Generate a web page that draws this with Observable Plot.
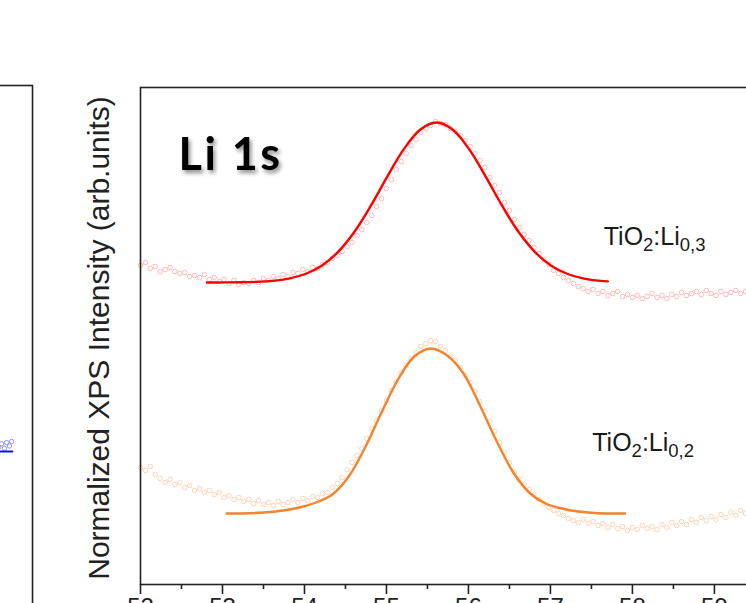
<!DOCTYPE html>
<html><head><meta charset="utf-8">
<script src="https://cdn.jsdelivr.net/npm/d3@7"></script>
<script src="https://cdn.jsdelivr.net/npm/@observablehq/plot@0.6"></script>
<style>
html,body{margin:0;padding:0;width:746px;height:603px;overflow:hidden;background:#fff;}
#wrap{position:relative;width:746px;height:603px;overflow:hidden;background:#fff;}
</style></head><body><div id="wrap"></div>
<script>
// ---- tick labels (binding energy, eV) ----
const majorTicks = [52, 53, 54, 55, 56, 57, 58, 59, 60];
const minorTicks = [52.5, 53.5, 54.5, 55.5, 56.5, 57.5, 58.5, 59.5];

// ---- measured data: energy grid (eV) ----
const energy = [52.00,52.06,52.12,52.18,52.24,52.30,52.36,52.42,52.48,52.54,
52.60,52.66,52.72,52.78,52.84,52.90,52.96,53.02,53.08,53.14,
53.20,53.26,53.32,53.38,53.44,53.50,53.56,53.62,53.68,53.74,
53.80,53.86,53.92,53.98,54.04,54.10,54.16,54.22,54.28,54.34,
54.40,54.46,54.52,54.58,54.64,54.70,54.76,54.82,54.88,54.94,
55.00,55.06,55.12,55.18,55.24,55.30,55.36,55.42,55.48,55.54,
55.60,55.66,55.72,55.78,55.84,55.90,55.96,56.02,56.08,56.14,
56.20,56.26,56.32,56.38,56.44,56.50,56.56,56.62,56.68,56.74,
56.80,56.86,56.92,56.98,57.04,57.10,57.16,57.22,57.28,57.34,
57.40,57.46,57.52,57.58,57.64,57.70,57.76,57.82,57.88,57.94,
58.00,58.06,58.12,58.18,58.24,58.30,58.36,58.42,58.48,58.54,
58.60,58.66,58.72,58.78,58.84,58.90,58.96,59.02,59.08,59.14,
59.20,59.26,59.32,59.38];

// TiO2:Li0,3 measured intensity (arb. units, offset)
const li03Data = [319,322,316,318,313,315,317,313,311,312,
308,309,307,310,305,307,303,305,301,304,
300,302,301,304,302,306,304,308,306,310,
308,312,311,315,313,317,316,320,322,326,
329,333,338,342,349,355,362,369,378,386,
396,405,415,423,431,439,445,452,456,459,
463,461,460,456,453,449,444,438,431,424,
417,407,399,392,382,374,365,357,350,344,
337,331,325,320,314,311,307,304,301,298,
296,293,295,291,293,289,291,293,288,290,
287,289,286,288,291,287,289,286,290,288,
292,289,291,293,290,294,291,289,293,290,
292,294,291,293];

// TiO2:Li0,2 measured intensity
const li02Data = [117,114,118,110,106,102,105,100,102,97,
99,94,96,92,94,90,92,87,89,85,
87,83,85,81,84,80,82,79,83,80,
82,85,82,86,84,88,87,91,92,97,
101,107,115,122,129,136,146,156,164,174,
184,194,203,212,219,226,232,238,241,244,
243,238,234,228,224,217,209,202,193,183,
173,163,153,142,132,122,112,105,100,95,
90,85,81,77,74,71,69,66,64,62,
65,61,63,59,61,57,60,56,58,54,
57,55,59,56,58,55,60,57,62,59,
63,60,65,62,67,64,68,65,70,67,
72,69,74,71];

// fitted curves
const li03FitE = [52.81,53.01,53.21,53.41,53.61,53.81,54.01,54.21,54.41,54.61,54.81,55.01,55.21,55.41,55.61,55.81,56.01,56.21,56.41,56.61,56.81,57.01,57.21,57.41,57.61,57.70];
const li03FitI = [302.0,302.1,302.2,302.6,303.6,305.9,310.5,318.8,332.6,352.7,378.8,407.9,435.1,454.8,462.0,454.8,435.1,407.9,378.8,352.7,332.6,318.8,310.5,305.9,303.6,303.1];
const li02FitE = [53.05,53.34,53.54,53.74,53.94,54.14,54.34,54.54,54.74,54.94,55.14,55.34,55.54,55.74,55.94,56.14,56.34,56.54,56.74,56.94,57.14,57.34,57.54,57.74,57.91];
const li02FitI = [71.0,71.3,72.2,74.0,77.0,82.0,90.0,108.0,137.0,172.0,205.0,228.0,236.0,229.0,211.0,179.0,144.0,113.0,92.0,81.0,76.0,73.0,71.5,71.0,71.0];

// series labels
const labelText = ["TiO2:Li0,3", "TiO2:Li0,2"];
const labelE = [57.65, 57.51];
const labelI = [340, 134];
const labelParts = {
  "TiO2:Li0,3": [["TiO",0],["2",1],[":Li",0],["0,3",1]],
  "TiO2:Li0,2": [["TiO",0],["2",1],[":Li",0],["0,2",1]]
};
const titleText = "Li 1s";
const yLabel = "Normalized XPS Intensity (arb.units)";

// left (neighbouring) panel fragment
const leftLineX = [0.50, 0.72];
const leftLineY = [0.352, 0.352];
const leftPtsX = [0.53, 0.57, 0.61, 0.64, 0.68, 0.71];
const leftPtsY = [0.360, 0.366, 0.358, 0.368, 0.362, 0.370];

const zip = (a, b) => a.map((x, i) => ({x, y: b[i]}));
const font = "'Liberation Sans', Arial, sans-serif";

const main = Plot.plot({
  width: 800, height: 634,
  marginLeft: 140, marginRight: 0, marginTop: 87, marginBottom: 50,
  style: {fontFamily: font, maxWidth: "none", overflow: "visible", background: "transparent"},
  x: {domain: [52, 60.05], axis: null},
  y: {domain: [0, 497], axis: null},
  marks: [
    Plot.dot(zip(energy, li03Data), {x: "x", y: "y", r: 2.3, fill: "none", stroke: "#ff9a9a", strokeWidth: 0.9, strokeOpacity: 0.75}),
    Plot.dot(zip(energy, li02Data), {x: "x", y: "y", r: 2.3, fill: "none", stroke: "#ffbf94", strokeWidth: 0.9, strokeOpacity: 0.75}),
    Plot.line(zip(li03FitE, li03FitI), {x: "x", y: "y", stroke: "#ff0000", strokeWidth: 2.4, curve: "catmull-rom"}),
    Plot.line(zip(li02FitE, li02FitI), {x: "x", y: "y", stroke: "#f5832c", strokeWidth: 2.4, curve: "catmull-rom"}),
    Plot.text(labelText.map((t, i) => ({t, x: labelE[i], y: labelI[i]})), {x: "x", y: "y", text: "t", textAnchor: "start", lineAnchor: "bottom", fontSize: 25, fill: "#1a1a1a"}),
    Plot.text([titleText], {text: d => d, frameAnchor: "top-left", dx: 38, dy: 82, textAnchor: "start", lineAnchor: "bottom", fontSize: 45, fontWeight: "bold", fontFamily: "Lato, 'Open Sans', sans-serif", fill: "#000"}),
    Plot.text([yLabel], {text: d => d, frameAnchor: "left", dx: -41, dy: 2, rotate: -90, textAnchor: "middle", lineAnchor: "middle", fontSize: 30, fill: "#222"}),
    Plot.frame({stroke: "#222", strokeWidth: 1.6}),
    Plot.axisX({ticks: majorTicks, anchor: "bottom", tickSize: 10, tickPadding: 3, fontSize: 24, strokeWidth: 1.6, color: "#222", tickFormat: d => String(d), label: null}),
    Plot.axisX({ticks: minorTicks, anchor: "bottom", tickSize: 5, strokeWidth: 1.6, color: "#222", tickFormat: () => "", label: null})
  ]
});
main.style.position = "absolute"; main.style.left = "0px"; main.style.top = "0px";

// subscripts and title shadow
d3.select(main).selectAll("text").each(function() {
  const t = this.textContent;
  if (labelParts[t]) {
    const el = d3.select(this);
    el.text(null);
    let shifted = false;
    labelParts[t].forEach(([s, sub]) => {
      const ts = el.append("tspan").text(s);
      if (sub) { ts.attr("font-size", 18.5).attr("dy", shifted ? 0 : 6); shifted = true; }
      else if (shifted) { ts.attr("dy", -6); shifted = false; }
    });
  } else if (t === titleText) {
    this.style.filter = "drop-shadow(2px 3px 2px rgba(0,0,0,0.45))";
    this.style.letterSpacing = "2.5px";
  }
});

const left = Plot.plot({
  width: 73, height: 700,
  marginLeft: 0, marginRight: 1, marginTop: 85, marginBottom: 50,
  style: {fontFamily: font, maxWidth: "none", overflow: "visible", background: "transparent"},
  x: {domain: [0, 1], axis: null},
  y: {domain: [0, 1], axis: null},
  marks: [
    Plot.dot(zip(leftPtsX, leftPtsY), {x: "x", y: "y", r: 2.2, fill: "none", stroke: "#8a8aff", strokeWidth: 0.9}),
    Plot.line(zip(leftLineX, leftLineY), {x: "x", y: "y", stroke: "#1010e0", strokeWidth: 2}),
    Plot.frame({stroke: "#222", strokeWidth: 1.6})
  ]
});
left.style.position = "absolute"; left.style.left = "-40px"; left.style.top = "0px";

const wrap = document.getElementById("wrap");
wrap.appendChild(main);
wrap.appendChild(left);
</script>
</body></html>
